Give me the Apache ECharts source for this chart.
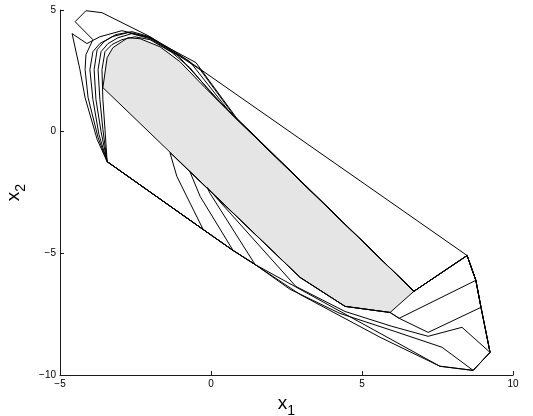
<!DOCTYPE html>
<html>
<head>
<meta charset="utf-8">
<script src="https://cdn.jsdelivr.net/npm/echarts@6/dist/echarts.min.js"></script>
<style>
  html, body { margin: 0; padding: 0; background: #fff; }
  #chart { width: 533px; height: 416px; }
</style>
</head>
<body>
<div id="chart"></div>
<script>
// axis ticks
const xTicks = [-5, 0, 5, 10]
const yTicks = [-10, -5, 0, 5]

// innermost set (filled)
const grayRegion = [
  [-3.58, 1.81], [-3.44, 3.04], [-3.25, 3.45], [-2.95, 3.70], [-2.75, 3.86],
  [-2.35, 3.82], [-1.69, 3.49], [-1.03, 2.88], [-0.20, 1.81], [6.72, -6.56],
  [5.93, -7.43], [4.44, -7.18], [2.95, -5.99]
]

// growing sets, outlines only
const set1 = [
  [-3.61, 2.55], [-3.51, 3.29], [-3.28, 3.58], [-2.95, 3.78], [-2.52, 3.90],
  [-2.02, 3.78], [-1.29, 3.25], [-0.70, 2.63], [0.13, 1.40], [6.72, -6.56],
  [8.48, -5.09], [8.77, -6.11], [6.23, -7.67], [5.93, -7.43], [4.44, -7.18],
  [2.95, -5.99], [-1.36, -0.86], [-1.13, -1.84], [-0.26, -4.02], [-3.44, -1.23],
  [-3.51, 0.09], [-3.58, 1.32]
]
const set2 = [
  [-3.74, 2.55], [-3.64, 3.29], [-3.41, 3.62], [-3.08, 3.86], [-2.62, 4.03],
  [-2.02, 3.82], [-1.09, 3.12], [0.50, 0.95], [6.72, -6.56], [8.48, -5.09],
  [8.77, -6.11], [8.94, -7.22], [7.19, -8.25], [6.23, -7.67], [5.93, -7.43],
  [4.44, -7.18], [2.95, -5.99], [-0.70, -1.64], [-0.36, -2.66], [0.73, -4.88],
  [-0.26, -4.02], [-3.44, -1.23], [-3.58, 0.09], [-3.68, 1.32]
]
const set3 = [
  [-4.01, 2.55], [-3.91, 3.29], [-3.68, 3.62], [-3.28, 3.90], [-2.75, 4.07],
  [-2.02, 3.86], [-0.70, 2.88], [0.66, 0.74], [6.72, -6.56], [8.48, -5.09],
  [8.77, -6.11], [8.94, -7.22], [9.24, -9.07], [8.31, -8.04], [7.19, -8.41],
  [5.99, -8.00], [4.44, -7.39], [2.81, -6.36], [-0.13, -2.29], [-0.03, -2.54],
  [1.46, -5.46], [0.73, -4.88], [-0.26, -4.02], [-3.44, -1.23], [-3.71, -0.12],
  [-3.91, 1.32]
]
const set4 = [
  [-3.87, 2.55], [-3.77, 3.37], [-3.54, 3.70], [-3.15, 3.99], [-2.62, 4.11],
  [-2.02, 3.90], [-0.36, 2.55], [0.83, 0.54], [6.72, -6.56], [8.48, -5.09],
  [8.77, -6.11], [8.94, -7.22], [9.24, -9.07], [8.68, -9.81], [7.65, -8.86],
  [6.09, -8.21], [4.27, -7.47], [2.62, -6.48], [1.46, -5.46], [0.73, -4.88],
  [-0.26, -4.02], [-3.44, -1.23], [-3.64, 0.00], [-3.81, 1.32]
]
const set5 = [
  [-4.34, 2.55], [-4.60, 4.03], [-4.11, 3.62], [-3.68, 3.90], [-2.95, 4.15],
  [-2.09, 3.90], [-0.50, 2.84], [0.86, 0.54], [6.72, -6.56], [8.48, -5.09],
  [8.77, -6.11], [8.94, -7.22], [9.24, -9.07], [8.68, -9.81], [7.58, -9.64],
  [5.60, -8.45], [2.95, -6.69], [1.46, -5.46], [0.73, -4.88], [-0.26, -4.02],
  [-3.44, -1.23], [-3.77, -0.32], [-4.17, 1.40]
]
const set6 = [
  [-3.91, 3.78], [-4.50, 4.52], [-4.14, 4.97], [-3.61, 4.89], [-2.09, 3.95],
  [-1.19, 3.29], [8.48, -5.09], [8.77, -6.11], [8.94, -7.22], [9.24, -9.07],
  [8.68, -9.81], [7.58, -9.64], [1.46, -5.46], [0.73, -4.88], [-0.26, -4.02],
  [-3.44, -1.23], [-3.74, -0.24], [-4.07, 1.40], [-4.17, 2.55], [-4.14, 3.17]
]

const outlines = [set1, set2, set3, set4, set5, set6]

const chartDom = document.getElementById('chart')
const chart = echarts.init(chartDom, null, { renderer: 'canvas' })

const minus = (v) => String(v).replace('-', '\u2212')

const axisName = {
  rich: {
    a: { fontSize: 19, fontFamily: 'Liberation Sans', color: '#000' },
    b: { fontSize: 14, fontFamily: 'Liberation Sans', color: '#000', padding: [14, 0, 0, 0] }
  }
}

const option = {
  animation: false,
  backgroundColor: '#fff',
  grid: {
    left: 60,
    right: 20,
    top: 10,
    bottom: 41,
    outerBoundsMode: 'none',
    containLabel: false
  },
  xAxis: {
    type: 'value',
    min: xTicks[0],
    max: xTicks[xTicks.length - 1],
    interval: 5,
    name: '{a|x}{b|1}',
    nameLocation: 'middle',
    nameGap: 15,
    nameTextStyle: axisName,
    axisLine: { show: true, onZero: false, lineStyle: { color: '#1a1a1a', width: 1 } },
    axisTick: { show: true, inside: true, length: 4, lineStyle: { color: '#1a1a1a' } },
    splitLine: { show: false },
    axisLabel: {
      color: '#000',
      fontSize: 10,
      fontFamily: 'Liberation Sans',
      margin: 4,
      formatter: minus
    }
  },
  yAxis: {
    type: 'value',
    min: yTicks[0],
    max: yTicks[yTicks.length - 1],
    interval: 5,
    name: '{a|x}{b|2}',
    nameLocation: 'middle',
    nameGap: 19,
    nameRotate: 90,
    nameTextStyle: axisName,
    axisLine: { show: true, onZero: false, lineStyle: { color: '#1a1a1a', width: 1 } },
    axisTick: { show: true, inside: true, length: 4, lineStyle: { color: '#1a1a1a' } },
    splitLine: { show: false },
    axisLabel: {
      color: '#000',
      fontSize: 10,
      fontFamily: 'Liberation Sans',
      margin: 4,
      formatter: minus
    }
  },
  series: [
    {
      type: 'custom',
      z: 1,
      data: grayRegion,
      renderItem: function (params, api) {
        if (params.dataIndex !== 0) return
        const pts = grayRegion.map((p) => api.coord(p))
        return {
          type: 'polygon',
          shape: { points: pts },
          style: { fill: '#e5e5e5', stroke: '#000', lineWidth: 1 }
        }
      }
    },
    ...outlines.map((poly) => ({
      type: 'line',
      z: 2,
      data: poly.concat([poly[0]]),
      showSymbol: false,
      symbol: 'none',
      silent: true,
      lineStyle: { color: '#000', width: 1 }
    }))
  ]
}

chart.setOption(option)
</script>
</body>
</html>
